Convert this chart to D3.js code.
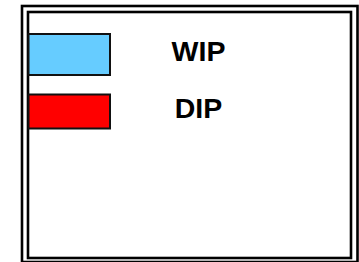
<!DOCTYPE html>
<html>
<head>
<meta charset="utf-8">
<script src="https://cdn.jsdelivr.net/npm/d3@7"></script>
<style>
  html, body { margin: 0; padding: 0; background: #fff; }
  svg { display: block; }
</style>
</head>
<body>
<svg id="chart" width="359" height="262"></svg>
<script>
const categories = ["WIP", "DIP"];
const colors = ["#66CCFF", "#FF0000"];

const W = 359, H = 262;
const svg = d3.select("#chart");

// double frame
svg.append("rect").attr("x", 22).attr("y", 6).attr("width", 335.5).attr("height", 256)
  .attr("fill", "none").attr("stroke", "#000").attr("stroke-width", 2.6);
svg.append("rect").attr("x", 28).attr("y", 12).attr("width", 323).attr("height", 246)
  .attr("fill", "none").attr("stroke", "#000").attr("stroke-width", 2.6);

// legend rows
const y = d3.scalePoint().domain(categories).range([54.5, 111.5]);
const swatchH = {"WIP": 41, "DIP": 34};
const color = d3.scaleOrdinal().domain(categories).range(colors);

const row = svg.selectAll("g.row").data(categories).join("g").attr("class", "row");
row.append("rect")
  .attr("x", 28.5)
  .attr("y", d => y(d) - swatchH[d] / 2)
  .attr("width", 81.5)
  .attr("height", d => swatchH[d])
  .attr("fill", d => color(d))
  .attr("stroke", "#111")
  .attr("stroke-width", 2);
row.append("text")
  .attr("x", 198.5)
  .attr("y", d => y(d) + 6.5)
  .attr("text-anchor", "middle")
  .attr("font-family", "Liberation Sans, Arial, sans-serif")
  .attr("font-weight", "bold")
  .attr("font-size", 28.5)
  .attr("fill", "#000")
  .text(d => d);
</script>
</body>
</html>
